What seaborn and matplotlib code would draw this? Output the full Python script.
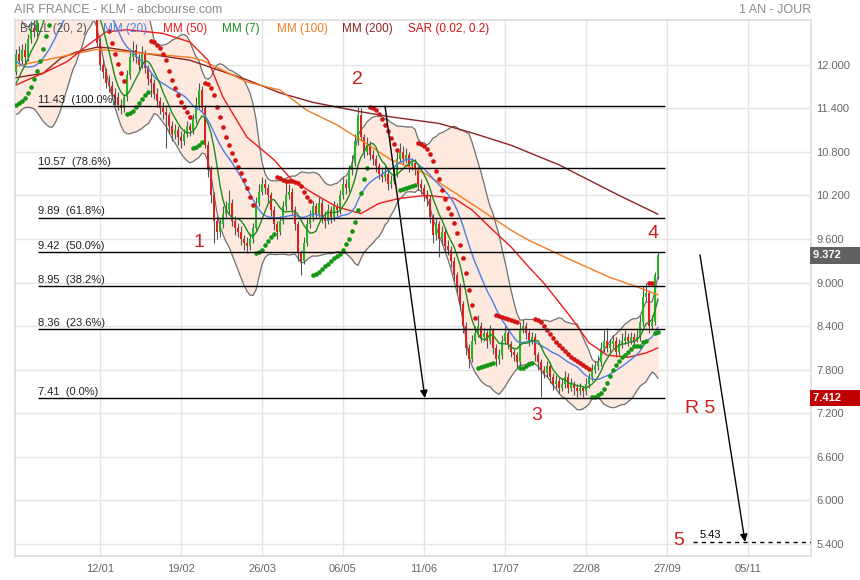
# Air France - KLM, graphique 1 an jour avec indicateurs (reproduction)

import numpy as np
import pandas as pd
import matplotlib
matplotlib.use("Agg")
import matplotlib.pyplot as plt
import matplotlib.transforms as mtransforms
import seaborn as sns

# ---- donnees ----
# clotures des 20 seances precedant la fenetre (pour amorcer MM7/MM20/BOLL)
clotures_avant = [12.70, 12.60, 12.75, 12.50, 12.40, 12.45, 12.30, 12.20, 12.25, 12.00,
                  11.90, 11.95, 11.80, 11.60, 11.50, 11.55, 11.60, 11.70, 11.80, 11.90]

clotures = [
    12.15, 12.05, 12.20, 12.10, 12.35, 12.50, 12.45, 12.70, 12.85, 13.00,
    13.10, 13.20, 13.30, 13.20, 13.35, 13.25, 13.10, 13.00, 12.90, 13.00,
    12.85, 12.95, 12.80, 12.90, 12.75, 12.85, 12.80, 12.30, 12.00, 11.90,
    11.75, 11.70, 11.60, 11.55, 11.45, 11.40, 11.55, 11.85, 12.10, 12.20,
    12.10, 12.00, 12.15, 11.95, 11.80, 11.75, 11.60, 11.50, 11.40, 11.35,
    11.30, 11.15, 11.05, 11.10, 11.00, 10.95, 11.05, 11.15, 11.10, 11.25,
    11.45, 11.65, 11.40, 10.90, 10.55, 10.20, 9.85, 9.70, 9.80, 9.95,
    10.00, 10.10, 9.85, 9.75, 9.70, 9.60, 9.55, 9.50, 9.60, 9.75,
    10.10, 10.25, 10.35, 10.30, 10.20, 10.00, 9.80, 9.70, 9.85, 10.05,
    10.20, 10.25, 10.00, 9.80, 9.40, 9.30, 9.55, 9.80, 9.90, 10.05,
    9.95, 10.10, 9.90, 9.85, 10.00, 9.90, 10.05, 10.00, 10.20, 10.35,
    10.30, 10.55, 10.65, 10.95, 11.30, 11.00, 10.80, 10.90, 10.75, 10.70,
    10.60, 10.50, 10.45, 10.50, 10.35, 10.40, 10.50, 10.70, 10.80, 10.70,
    10.75, 10.60, 10.65, 10.55, 10.35, 10.30, 10.20, 10.15, 9.90, 9.65,
    9.80, 9.60, 9.70, 9.50, 9.45, 9.30, 9.10, 8.95, 8.70, 8.40,
    8.10, 7.95, 8.20, 8.30, 8.40, 8.25, 8.30, 8.20, 8.35, 8.10,
    7.95, 8.00, 8.20, 8.30, 8.15, 8.05, 8.00, 7.90, 8.35, 8.40,
    8.30, 8.20, 8.25, 8.00, 7.90, 7.80, 7.75, 7.85, 7.70, 7.60,
    7.65, 7.55, 7.60, 7.70, 7.55, 7.60, 7.55, 7.50, 7.55, 7.50,
    7.60, 7.70, 7.80, 7.85, 7.90, 8.10, 8.20, 8.10, 8.15, 8.20,
    8.05, 8.15, 8.20, 8.25, 8.20, 8.25, 8.20, 8.25, 8.45, 8.80,
    8.85, 8.40, 8.45, 9.10, 9.372,
]

hauts = [
    12.22, 12.25, 12.28, 12.30, 12.42, 12.60, 12.62, 12.78, 12.95, 13.10,
    13.20, 13.30, 13.40, 13.38, 13.45, 13.42, 13.30, 13.15, 13.08, 13.10,
    13.05, 13.05, 13.00, 13.00, 12.95, 12.92, 12.95, 12.85, 12.38, 12.08,
    11.95, 11.85, 11.78, 11.68, 11.62, 11.52, 11.60, 11.92, 12.18, 12.32,
    12.28, 12.15, 12.25, 12.20, 12.00, 11.88, 11.80, 11.68, 11.55, 11.48,
    11.42, 11.35, 11.22, 11.18, 11.15, 11.08, 11.12, 11.22, 11.20, 11.32,
    11.55, 11.75, 11.70, 11.45, 10.95, 10.60, 10.25, 9.92, 9.88, 10.05,
    10.12, 10.28, 10.15, 9.92, 9.82, 9.78, 9.65, 9.62, 9.68, 9.82,
    10.18, 10.35, 10.45, 10.42, 10.35, 10.25, 10.05, 9.85, 9.92, 10.12,
    10.40, 10.35, 10.30, 10.05, 9.85, 9.45, 9.62, 9.88, 10.00, 10.12,
    10.10, 10.18, 10.15, 9.98, 10.08, 10.05, 10.12, 10.10, 10.28, 10.45,
    10.42, 10.62, 10.75, 11.05, 11.42, 11.40, 11.05, 11.00, 10.95, 10.82,
    10.75, 10.65, 10.58, 10.60, 10.55, 10.48, 10.58, 10.80, 10.92, 10.88,
    10.85, 10.80, 10.72, 10.70, 10.60, 10.42, 10.35, 10.28, 10.20, 9.95,
    9.88, 9.85, 9.78, 9.75, 9.58, 9.50, 9.35, 9.15, 9.00, 8.75,
    8.45, 8.15, 8.28, 8.40, 8.55, 8.45, 8.38, 8.35, 8.42, 8.38,
    8.15, 8.08, 8.28, 8.40, 8.35, 8.20, 8.10, 8.05, 8.45, 8.50,
    8.45, 8.35, 8.32, 8.30, 8.05, 7.95, 7.85, 7.92, 7.90, 7.75,
    7.72, 7.70, 7.68, 7.78, 7.75, 7.68, 7.65, 7.60, 7.62, 7.58,
    7.68, 7.75, 7.88, 7.92, 8.00, 8.18, 8.35, 8.38, 8.22, 8.28,
    8.25, 8.22, 8.30, 8.35, 8.30, 8.32, 8.30, 8.35, 8.55, 8.95,
    9.00, 8.90, 8.55, 9.15, 9.42,
]

bas = [
    11.85, 11.98, 12.00, 12.02, 12.05, 12.30, 12.38, 12.40, 12.65, 12.80,
    12.95, 13.05, 13.12, 13.12, 13.15, 13.18, 13.02, 12.92, 12.82, 12.85,
    12.78, 12.80, 12.72, 12.75, 12.68, 12.70, 12.72, 12.25, 11.92, 11.82,
    11.68, 11.62, 11.52, 11.45, 11.38, 11.32, 11.35, 11.50, 11.80, 12.05,
    12.02, 11.92, 11.95, 11.88, 11.72, 11.55, 11.52, 11.42, 11.32, 11.25,
    10.85, 11.05, 10.95, 10.98, 10.90, 10.85, 10.90, 11.00, 11.02, 11.05,
    11.20, 11.40, 11.35, 10.85, 10.45, 10.10, 9.55, 9.60, 9.62, 9.75,
    9.90, 9.95, 9.78, 9.65, 9.62, 9.52, 9.45, 9.40, 9.45, 9.55,
    9.70, 10.05, 10.20, 10.22, 10.10, 9.92, 9.72, 9.60, 9.65, 9.80,
    10.00, 10.15, 9.92, 9.72, 9.30, 9.10, 9.25, 9.50, 9.75, 9.85,
    9.88, 9.90, 9.82, 9.75, 9.80, 9.82, 9.85, 9.92, 9.95, 10.15,
    10.22, 10.25, 10.48, 10.60, 10.90, 10.95, 10.72, 10.75, 10.68, 10.62,
    10.52, 10.42, 10.38, 10.40, 10.28, 10.30, 10.35, 10.45, 10.65, 10.62,
    10.65, 10.52, 10.55, 10.48, 10.28, 10.22, 10.12, 10.05, 9.82, 9.55,
    9.58, 9.35, 9.52, 9.42, 9.38, 9.22, 9.02, 8.85, 8.62, 8.30,
    8.00, 7.82, 7.90, 8.15, 8.25, 8.18, 8.20, 8.10, 8.15, 8.02,
    7.85, 7.88, 7.95, 8.15, 8.08, 7.98, 7.92, 7.82, 7.85, 8.30,
    8.22, 8.12, 8.15, 7.92, 7.80, 7.42, 7.68, 7.70, 7.62, 7.52,
    7.55, 7.48, 7.50, 7.55, 7.48, 7.50, 7.45, 7.42, 7.45, 7.42,
    7.45, 7.55, 7.65, 7.75, 7.80, 7.85, 8.05, 8.05, 8.05, 8.10,
    7.98, 8.00, 8.10, 8.15, 8.12, 8.15, 8.12, 8.18, 8.20, 8.40,
    8.75, 8.30, 8.35, 8.42, 9.05,
]

# moyennes longues relevees point par point (seance, valeur)
mm50_seance = [0, 10, 17, 24, 30, 37, 49, 58, 64, 69, 77, 86, 92, 99, 107, 115,
               121, 128, 137, 146, 152, 159, 165, 171, 176, 185, 191, 197, 204, 210, 214]
mm50_valeur = [11.72, 11.90, 12.04, 12.27, 12.45, 12.48, 12.43, 12.31, 12.06, 11.55,
               11.00, 10.69, 10.41, 10.23, 10.04, 9.95, 10.09, 10.16, 10.20, 10.16,
               10.00, 9.72, 9.49, 9.21, 8.99, 8.52, 8.17, 8.00, 7.97, 8.03, 8.10]

mm100_seance = [0, 27, 58, 62, 77, 88, 97, 107, 115, 125, 136, 145, 155, 165, 171,
                185, 198, 207, 214]
mm100_valeur = [11.98, 12.21, 12.10, 12.06, 11.76, 11.65, 11.37, 11.17, 10.96, 10.69,
                10.51, 10.27, 10.00, 9.72, 9.58, 9.31, 9.07, 8.94, 8.83]

mm200_seance = [0, 9, 15, 20, 27, 31, 42, 58, 77, 88, 99, 115, 125, 141, 152, 165,
                181, 201, 214]
mm200_valeur = [11.82, 11.88, 12.09, 12.17, 12.24, 12.23, 12.16, 12.06, 11.79, 11.61,
                11.48, 11.35, 11.28, 11.19, 11.06, 10.89, 10.62, 10.20, 9.94]

# retracements de Fibonacci
fibo_niveaux = [11.43, 10.57, 9.89, 9.42, 8.95, 8.36, 7.41]
fibo_pct = ["100.0%", "78.6%", "61.8%", "50.0%", "38.2%", "23.6%", "0.0%"]

# axe des dates (positions en seances) et graduations de prix
dates_pos = [28, 55, 82, 109, 136, 163, 190, 217, 244]
dates_lib = ["12/01", "19/02", "26/03", "06/05", "11/06", "17/07", "22/08", "27/09", "05/11"]
prix_ticks = [12.0, 11.4, 10.8, 10.2, 9.6, 9.0, 8.4, 7.8, 7.2, 6.6, 6.0, 5.4]

# ---- indicateurs calcules ----
n = len(clotures)
seances = np.arange(n)
serie = pd.Series(clotures_avant + clotures)
mm7 = serie.rolling(7).mean().iloc[-n:].to_numpy()
mm20 = serie.rolling(20).mean().iloc[-n:].to_numpy()
ecart = serie.rolling(20).std(ddof=0).iloc[-n:].to_numpy()
boll_haut = mm20 + 2 * ecart
boll_bas = mm20 - 2 * ecart

ouvertures = np.array([clotures_avant[-1]] + clotures[:-1])
clot = np.array(clotures)
h = np.array(hauts)
b = np.array(bas)


def sar_parabolique(h, b, pas=0.02, pas_max=0.2):
    sar = np.zeros(len(h))
    hausse = np.zeros(len(h), dtype=bool)
    tendance = True
    s = 11.45
    ep = h[0]
    af = pas
    sar[0], hausse[0] = s, True
    for i in range(1, len(h)):
        s = s + af * (ep - s)
        if tendance:
            s = min(s, b[i - 1], b[max(i - 2, 0)])
            if b[i] < s:
                tendance, s, ep, af = False, ep, b[i], pas
            elif h[i] > ep:
                ep, af = h[i], min(af + pas, pas_max)
        else:
            s = max(s, h[i - 1], h[max(i - 2, 0)])
            if h[i] > s:
                tendance, s, ep, af = True, ep, h[i], pas
            elif b[i] < ep:
                ep, af = b[i], min(af + pas, pas_max)
        sar[i], hausse[i] = s, tendance
    return sar, hausse


sar, sar_hausse = sar_parabolique(h, b)

# ---- figure ----
sns.set_theme(style="white")
plt.rcParams["font.family"] = ["Liberation Sans", "DejaVu Sans"]

fig = plt.figure(figsize=(8.6, 5.8), dpi=100)
ax = fig.add_axes([15 / 860, 24 / 580, 796 / 860, 536 / 580])

ax.fill_between(seances, boll_bas, boll_haut, color="#fde9dd", zorder=1, lw=0)
sns.lineplot(x=seances, y=boll_haut, ax=ax, color="#707070", lw=0.9, zorder=2)
sns.lineplot(x=seances, y=boll_bas, ax=ax, color="#707070", lw=0.9, zorder=2)

# bougies
hausse = clot >= ouvertures
couleurs = np.where(hausse, "#22b822", "#dd2020")
ax.vlines(seances, b, h, color="#555555", lw=0.8, zorder=3)
ax.bar(seances, np.maximum(np.abs(clot - ouvertures), 0.02),
       bottom=np.minimum(clot, ouvertures), width=0.85, color=couleurs,
       lw=0, zorder=3)

sns.lineplot(x=mm200_seance, y=mm200_valeur, ax=ax, color="#8b2323", lw=1.0, zorder=4)
sns.lineplot(x=mm100_seance, y=mm100_valeur, ax=ax, color="#f57c20", lw=1.0, zorder=4)
sns.lineplot(x=mm50_seance, y=mm50_valeur, ax=ax, color="#ec1c1c", lw=1.0, zorder=4)
sns.lineplot(x=seances, y=mm20, ax=ax, color="#4b7fe6", lw=1.0, zorder=4)
sns.lineplot(x=seances, y=mm7, ax=ax, color="#1e8c1e", lw=1.0, zorder=4)

sns.scatterplot(x=seances[sar_hausse], y=sar[sar_hausse], ax=ax, color="#139613",
                s=11, linewidth=0, zorder=5)
sns.scatterplot(x=seances[~sar_hausse], y=sar[~sar_hausse], ax=ax, color="#d31313",
                s=11, linewidth=0, zorder=5)

# Fibonacci
ax.hlines(fibo_niveaux, 7.3, 216.3, color="black", lw=1, zorder=6)
for niv, pct in zip(fibo_niveaux, fibo_pct):
    ax.annotate(f"{niv:.2f}  ({pct})", xy=(7.4, niv), xytext=(0, 1),
                textcoords="offset points", fontsize=8, color="#222222",
                va="bottom", zorder=7)

# fleches et reperes
fleche = dict(arrowstyle="-|>", color="black", lw=1, mutation_scale=11,
              shrinkA=0, shrinkB=0)
ax.annotate("", xy=(136.3, 7.41), xytext=(123, 11.43), arrowprops=fleche, zorder=7)
ax.annotate("", xy=(243, 5.43), xytext=(228, 9.38), arrowprops=fleche, zorder=7)
ax.hlines(5.43, 225.7, 265, color="black", lw=1, linestyles=(0, (3, 3)), zorder=6)
ax.text(228, 5.46, "5.43", fontsize=8, color="black", va="bottom")

rouge = "#cc1f1f"
for txt, xi, yi in [("1", 61, 9.55), ("2", 113.7, 11.79), ("3", 173.7, 7.17),
                    ("4", 212.3, 9.68), ("R 5", 228, 7.27), ("5", 221, 5.45)]:
    ax.text(xi, yi, txt, color=rouge, fontsize=14, ha="center", va="center", zorder=7)

# axes
ax.set_xlim(-0.33, 265)
ax.set_ylim(5.235, 12.614)
ax.set_xticks(dates_pos)
ax.set_xticklabels(dates_lib)
ax.set_yticks(prix_ticks)
ax.set_yticklabels([f"{p:.3f}" for p in prix_ticks])
ax.yaxis.tick_right()
ax.tick_params(axis="both", length=0, labelsize=8, labelcolor="#666666")
ax.tick_params(axis="y", pad=4)
ax.tick_params(axis="x", pad=6)
ax.grid(True, color="#e4e4e4", lw=1)
ax.set_axisbelow(True)
for sp in ax.spines.values():
    sp.set_color("#dddddd")
ax.set_xlabel("")
ax.set_ylabel("")

# etiquettes a droite
trans = mtransforms.blended_transform_factory(ax.transAxes, ax.transData)
ax.text(1.003, 9.372, "9.372      ", transform=trans, fontsize=8, color="white",
        va="center", ha="left", weight="bold",
        bbox=dict(boxstyle="square,pad=0.3", fc="#616161", ec="none"))
ax.text(1.003, 7.412, "7.412      ", transform=trans, fontsize=8, color="white",
        va="center", ha="left", weight="bold",
        bbox=dict(boxstyle="square,pad=0.3", fc="#c00000", ec="none"))

# en-tete et legende
fig.text(14 / 860, 1 - 10 / 580, "AIR FRANCE - KLM - abcbourse.com", color="#8a8a8a",
         fontsize=9, va="center")
fig.text(811 / 860, 1 - 10 / 580, "1 AN - JOUR", color="#8a8a8a", fontsize=9,
         va="center", ha="right")
legende = [("BOLL (20, 2)", "#555555", 20), ("MM (20)", "#4b7fe6", 103),
           ("MM (50)", "#ec1c1c", 163), ("MM (7)", "#1e8c1e", 222),
           ("MM (100)", "#f57c20", 277), ("MM (200)", "#8b2323", 342),
           ("SAR (0.02, 0.2)", "#d31313", 408)]
for lib, coul, px in legende:
    fig.text(px / 860, 1 - 29 / 580, lib, color=coul, fontsize=8.5, va="center")

fig.savefig("out.png", dpi=100)
